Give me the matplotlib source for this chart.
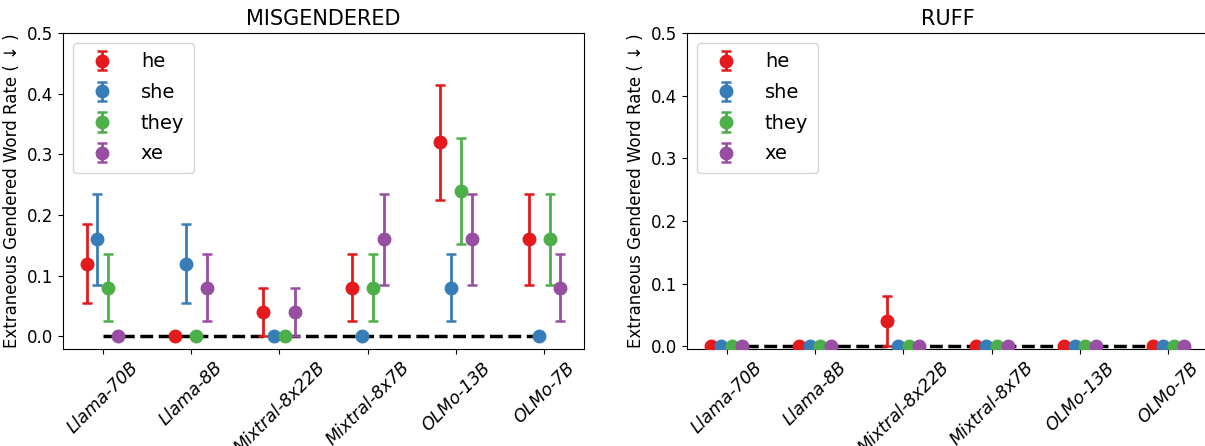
import numpy as np
import matplotlib
matplotlib.use("Agg")
import matplotlib.pyplot as plt

models = ["Llama-70B", "Llama-8B", "Mixtral-8x22B", "Mixtral-8x7B", "OLMo-13B", "OLMo-7B"]
pronouns = ["he", "she", "they", "xe"]
colors = ["#e41a1c", "#377eb8", "#4daf4a", "#984ea3"]

# MISGENDERED: rate and error half-width per pronoun, one value per model
mis_rate = {
    "he":   [0.12, 0.00, 0.04, 0.08, 0.32, 0.16],
    "she":  [0.16, 0.12, 0.00, 0.00, 0.08, 0.00],
    "they": [0.08, 0.00, 0.00, 0.08, 0.24, 0.16],
    "xe":   [0.00, 0.08, 0.04, 0.16, 0.16, 0.08],
}
mis_err = {
    "he":   [0.065, 0.0, 0.04, 0.055, 0.095, 0.075],
    "she":  [0.075, 0.065, 0.0, 0.0, 0.055, 0.0],
    "they": [0.055, 0.0, 0.0, 0.055, 0.087, 0.075],
    "xe":   [0.0, 0.055, 0.04, 0.075, 0.075, 0.055],
}

# RUFF
ruff_rate = {
    "he":   [0.0, 0.0, 0.04, 0.0, 0.0, 0.0],
    "she":  [0.0, 0.0, 0.0, 0.0, 0.0, 0.0],
    "they": [0.0, 0.0, 0.0, 0.0, 0.0, 0.0],
    "xe":   [0.0, 0.0, 0.0, 0.0, 0.0, 0.0],
}
ruff_err = {
    "he":   [0.0, 0.0, 0.04, 0.0, 0.0, 0.0],
    "she":  [0.0, 0.0, 0.0, 0.0, 0.0, 0.0],
    "they": [0.0, 0.0, 0.0, 0.0, 0.0, 0.0],
    "xe":   [0.0, 0.0, 0.0, 0.0, 0.0, 0.0],
}

fig = plt.figure(figsize=(12.05, 4.46), dpi=100)
ax1 = fig.add_axes([63 / 1205, 1 - 349 / 446, 521 / 1205, 316 / 446])
ax2 = fig.add_axes([687 / 1205, 1 - 349 / 446, 521 / 1205, 316 / 446])


def draw_panel(ax, rate, err, title):
    x = np.arange(len(models))
    for j, p in enumerate(pronouns):
        offset = (j - 1.5) * 0.12
        ax.errorbar(x + offset, rate[p], yerr=err[p], fmt="o", color=colors[j],
                    markersize=9, elinewidth=2.0, capsize=3.5, capthick=1.8,
                    label=p, zorder=3)
    ax.hlines(0, 0, len(models) - 1, colors="k", linestyles="--", linewidth=2.5, zorder=2)
    ax.set_ylim(top=0.5)
    ax.set_xticks(x)
    ax.set_xticklabels(models, rotation=45, ha="center", fontsize=12.5, style="italic")
    ax.tick_params(axis="y", labelsize=12)
    ax.set_ylabel("Extraneous Gendered Word Rate ( \u2193 )", fontsize=12)
    ax.set_title(title, fontsize=15)
    ax.legend(loc="upper left", fontsize=14, handletextpad=1.0, borderpad=0.5,
              labelspacing=0.6)


draw_panel(ax1, mis_rate, mis_err, "MISGENDERED")
draw_panel(ax2, ruff_rate, ruff_err, "RUFF")

fig.savefig("out.png", dpi=100)
